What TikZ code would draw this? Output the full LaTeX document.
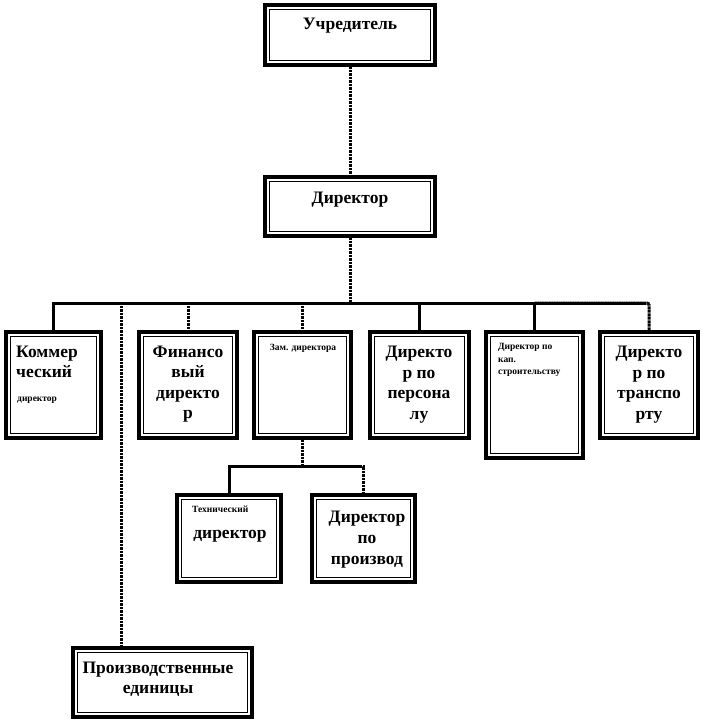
\documentclass[tikz,border=0pt]{standalone}
\usepackage{fontspec}
\setmainfont{Liberation Serif}
\begin{document}
\begin{tikzpicture}[x=1pt,y=-1pt,
  box/.style={draw, line width=4pt, rectangle, inner sep=0pt,
    path picture={\draw[line width=1pt] ([shift={(4.5pt,4.5pt)}]path picture bounding box.south west) rectangle ([shift={(-4.5pt,-4.5pt)}]path picture bounding box.north east);}},
  big/.style={font=\bfseries\fontsize{17.5pt}{20pt}\selectfont, inner sep=0pt, anchor=base},
  bigl/.style={big, anchor=base west},
  small/.style={font=\bfseries\fontsize{9.5pt}{11pt}\selectfont, inner sep=0pt, anchor=base},
  smalll/.style={small, anchor=base west},
  sol/.style={line width=3pt},
  dotl/.style={line width=3pt, dash pattern=on 1pt off 0.4pt}]
\useasboundingbox (0,0) rectangle (702,722);
\fill[white] (0,0) rectangle (702,722);

% boxes
\node[box, minimum width=170pt, minimum height=60pt] (ucr) at (350,35) {};
\node[box, minimum width=170pt, minimum height=59pt] (dir) at (350,206.5) {};
\node[box, minimum width=95pt, minimum height=106pt] (kom) at (53.5,385) {};
\node[box, minimum width=98pt, minimum height=106pt] (fin) at (188,385) {};
\node[box, minimum width=97pt, minimum height=106pt] (zam) at (302.5,385) {};
\node[box, minimum width=99pt, minimum height=106pt] (pers) at (419.5,385) {};
\node[box, minimum width=97pt, minimum height=126pt] (kap) at (534.5,395) {};
\node[box, minimum width=98pt, minimum height=106pt] (tr) at (649,385) {};
\node[box, minimum width=104pt, minimum height=87pt] (tech) at (229,538.5) {};
\node[box, minimum width=103pt, minimum height=87pt] (proizv) at (363.5,538.5) {};
\node[box, minimum width=179pt, minimum height=69pt] (pe) at (162.5,682.5) {};

% connector helpers
\coordinate (bus) at (0,303);
\coordinate (sub) at (0,466);
\coordinate (pej) at (121,303);

% connectors
\draw[dotl] (ucr.south) -- (dir.north);
\draw[dotl] (dir.south) -- (dir.south |- bus);
\draw[dotl, rounded corners=2pt] (kap.north |- bus) -| (tr.north);
\draw[sol] (kom.north) |- ([xshift=-3pt]tr.north |- bus);
\draw[sol] (kap.north |- bus) -- (kap.north);
\draw[sol] (pers.north |- bus) -- (pers.north);
\draw[dotl] (pej) -- (pej |- pe.north);
\draw[dotl] (fin.north |- bus) -- (fin.north);
\draw[dotl] (zam.north |- bus) -- (zam.north);
\draw[dotl] (zam.south) -- (zam.south |- sub);
\draw[dotl] (zam.south |- sub) -| (proizv.north);
\draw[sol] (tech.north) |- ([xshift=-2pt]proizv.north |- sub);

% texts
\node[big] (t-ucr) at (350,30) {Учредитель};
\node[big] (t-dir) at (350,204) {Директор};

\node[bigl] (t-kom1) at (16,357) {Коммер};
\node[bigl] (t-kom2) at (16,377) {ческий};
\node[smalll] (t-kom3) at (17,401) {директор};

\node[big] (t-fin1) at (188,357) {Финансо};
\node[big] (t-fin2) at (188,377) {вый};
\node[big] (t-fin3) at (188,398) {директо};
\node[big] (t-fin4) at (188,418) {р};

\node[small] (t-zam) at (303,350) {Зам. директора};

\node[big] (t-pers1) at (419,357) {Директо};
\node[big] (t-pers2) at (419,378) {р по};
\node[big] (t-pers3) at (419,398) {персона};
\node[big] (t-pers4) at (419,419) {лу};

\node[smalll] (t-kap1) at (498,349) {Директор по};
\node[smalll] (t-kap2) at (498,362) {кап.};
\node[smalll] (t-kap3) at (498,374) {строительству};

\node[big] (t-tr1) at (649,357) {Директо};
\node[big] (t-tr2) at (649,378) {р по};
\node[big] (t-tr3) at (649,398) {транспо};
\node[big] (t-tr4) at (649,419) {рту};

\node[smalll] (t-tech1) at (192,512) {Технический};
\node[big] (t-tech2) at (230,538) {директор};

\node[big] (t-pr1) at (367,522) {Директор};
\node[big] (t-pr2) at (367,543) {по};
\node[big] (t-pr3) at (367,564) {производ};

\node[big] (t-pe1) at (158,673) {Производственные};
\node[big] (t-pe2) at (158,693) {единицы};
\end{tikzpicture}
\end{document}
